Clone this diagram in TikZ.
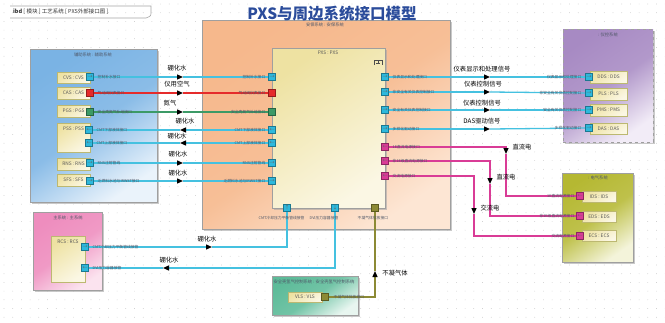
\documentclass[tikz,border=0pt]{standalone}
\usepackage{fontspec}
\setmainfont{Noto Sans CJK SC}
\usetikzlibrary{arrows.meta,shadows,fit}
\definecolor{cyanl}{HTML}{45C1E0}
\definecolor{cyanp}{HTML}{2DB9DD}
\definecolor{redl}{HTML}{E52B2B}
\definecolor{greenl}{HTML}{3C9A66}
\definecolor{magl}{HTML}{D93C96}
\definecolor{olivel}{HTML}{8C8A35}
\definecolor{labgray}{HTML}{505868}
\definecolor{titleblue}{HTML}{2B4C9B}
\definecolor{orgA}{HTML}{F6B88C}
\definecolor{orgB}{HTML}{FDE6D4}
\definecolor{yelA}{HTML}{EEE2A2}
\definecolor{yelB}{HTML}{FBF7E4}
\definecolor{bluA}{HTML}{7AB3E4}
\definecolor{bluB}{HTML}{EAF3FB}
\definecolor{pinA}{HTML}{EE8DBE}
\definecolor{pinB}{HTML}{FBE3EF}
\definecolor{purA}{HTML}{A78AC3}
\definecolor{purB}{HTML}{F2ECF7}
\definecolor{oliA}{HTML}{B5B832}
\definecolor{oliB}{HTML}{F4F4DA}
\definecolor{teaA}{HTML}{5DBB99}
\definecolor{teaB}{HTML}{E8F6F0}
\tikzset{
  sysbox/.style={draw=gray!75, line width=0.7pt, inner sep=0pt,
    drop shadow={shadow xshift=1.5pt,shadow yshift=-1.5pt,fill=gray!70,opacity=0.6}},
  partbox/.style={draw=yellow!40!gray, line width=0.5pt, inner sep=0pt,
    top color=yelA, bottom color=yelB, shading angle=35,
    drop shadow={shadow xshift=1pt,shadow yshift=-1pt,fill=gray!70,opacity=0.5}},
  prt/.style={draw=#1!65!black, fill=#1, minimum size=7pt, inner sep=0pt,
    line width=0.4pt, text=black!60, font=\fontsize{5}{5}\selectfont},
  tl/.style={font=\fontsize{3.8}{4}\selectfont, text=labgray, inner sep=0.5pt},
  fl/.style={font=\fontsize{6.3}{7}\selectfont, inner sep=0pt},
  bl/.style={font=\fontsize{4.3}{5}\selectfont, text=labgray, inner sep=0pt},
  pl/.style={font=\fontsize{4.8}{5}\selectfont, text=black!65, inner sep=0pt},
  wire/.style={line width=1.3pt, draw=#1},
  tip/.style={-{Triangle[length=6pt,width=5pt,color=black]}},
}
\begin{document}
\begin{tikzpicture}[x=1pt,y=-1pt]
\useasboundingbox (0,0) rectangle (665,322);
\fill[white] (0,0) rectangle (665,322);
% dot grid
\foreach \i in {0,...,76}{\foreach \j in {0,...,36}{\fill[gray!55] (4+\i*8.7,4+\j*8.7) circle (0.35);}}
% header tab
\draw[gray!70, line width=0.6pt] (10,6) -- (151,6) -- (151,12) .. controls (151,16) .. (146,18) -- (10,18);
\node[font=\fontsize{5.5}{6}\selectfont, text=black!80, anchor=west, inner sep=0pt] (hdr) at (13,12) {\textbf{ibd} [ 模块 ] 工艺系统 [ PXS外部接口图 ]};

% system boxes
\node[sysbox, top color=orgA, bottom color=orgB, middle color=orgA!85!orgB, shading angle=35, fit={(202,20)(450,229)}] (safe) {};
\node[sysbox, top color=bluA, bottom color=bluB, middle color=bluA!85!bluB, shading angle=35, fit={(30,49)(157,202)}] (aux) {};
\node[sysbox, top color=pinA, bottom color=pinB, middle color=pinA!85!pinB, shading angle=35, fit={(33,212)(102,290)}] (main) {};
\node[sysbox, dashed, top color=purA, bottom color=purB, middle color=purA!85!purB, shading angle=35, fit={(563,29)(653,142)}] (ic) {};
\node[sysbox, top color=oliA, bottom color=oliB, middle color=oliA!85!oliB, shading angle=35, fit={(562,173)(633,262)}] (el) {};
\node[sysbox, top color=teaA, bottom color=teaB, middle color=teaA!85!teaB, shading angle=35, fit={(272,276)(358,315)}] (vlsb) {};

\node[bl] (safel) at (325,25) {安保系统 : 安保系统};
\node[bl] (auxl) at (93,55) {辅助系统 : 辅助系统};
\node[bl] (mainl) at (68,218) {主系统 : 主系统};
\node[bl] (icl) at (608,35) {: 仪控系统};
\node[bl] (ell) at (598,178) {: 电气系统};
\node[bl] (vlsl) at (314,282) {安全壳氢气控制系统 : 安全壳氢气控制系统};

% PXS block
\node[sysbox, top color=yelA, bottom color=yelB, shading angle=35, fit={(272,48)(385,208)}] (pxs) {};
\node[pl] (pxsl) at (328,53) {PXS : PXS};
\draw[black!70, line width=0.5pt] (374,65) -- (374,60) -- (382,60) -- (382,65) (378,60) -- (378,63) (376,63) -- (380,63);

% parts
\node[partbox, fit={(57,72)(90,83)}] (cvs) {}; \node[pl] (cvsl) at (cvs) {CVS : CVS};
\node[partbox, fit={(57,87)(90,99)}] (cas) {}; \node[pl] (casl) at (cas) {CAS : CAS};
\node[partbox, fit={(57,105)(90,117)}] (pgs) {}; \node[pl] (pgsl) at (pgs) {PGS : PGS};
\node[partbox, fit={(57,123)(90,152)}] (pss) {}; \node[pl] (pssl) at (73.5,129) {PSS : PSS};
\node[partbox, fit={(57,158)(90,170)}] (rns) {}; \node[pl] (rnsl) at (rns) {RNS : RNS};
\node[partbox, fit={(57,174)(90,186)}] (sfs) {}; \node[pl] (sfsl) at (sfs) {SFS : SFS};
\node[partbox, fit={(51,236)(85,282)}] (rcs) {}; \node[pl] (rcsl) at (68,242) {RCS : RCS};
\node[partbox, fit={(590,71)(627,83)}] (dds) {}; \node[pl] (ddsl) at (dds) {DDS : DDS};
\node[partbox, fit={(590,88)(627,100)}] (pls) {}; \node[pl] (plsl) at (pls) {PLS : PLS};
\node[partbox, fit={(590,104)(627,116)}] (pms) {}; \node[pl] (pmsl) at (pms) {PMS : PMS};
\node[partbox, fit={(590,123)(627,134)}] (das) {}; \node[pl] (dasl) at (das) {DAS : DAS};
\node[partbox, fit={(582,191)(616,202)}] (ids) {}; \node[pl] (idsl) at (ids) {IDS : IDS};
\node[partbox, fit={(582,211)(616,222)}] (eds) {}; \node[pl] (edsl) at (eds) {EDS : EDS};
\node[partbox, fit={(582,230)(616,241)}] (ecs) {}; \node[pl] (ecsl) at (ecs) {ECS : ECS};
\node[partbox, fit={(288,292)(322,302)}] (vls) {}; \node[pl] (vlsp) at (vls) {VLS : VLS};

% coordinates for arrow marks and bends
\coordinate (m1) at (183,77);  \coordinate (m2) at (183,93);  \coordinate (m3) at (183,112);
\coordinate (m4) at (180,130); \coordinate (m5) at (180,143); \coordinate (m6) at (183,163);
\coordinate (m7) at (183,181);
\coordinate (n1) at (490,77); \coordinate (n2) at (490,92); \coordinate (n3) at (490,110); \coordinate (n4) at (490,129);
\coordinate (e1a) at (506,147); \coordinate (e1m) at (506,154); \coordinate (e1b) at (506,196);
\coordinate (e2a) at (490,161); \coordinate (e2m) at (490,184); \coordinate (e2b) at (490,216);
\coordinate (e3a) at (474,176); \coordinate (e3m) at (474,214); \coordinate (e3b) at (474,236);
\coordinate (r1m) at (212,247); \coordinate (r1a) at (287,247);
\coordinate (r2a) at (335,268); \coordinate (r2m) at (163,268);
\coordinate (v1a) at (375,297); \coordinate (v1m) at (375,271);

% ports (aux)
\node[prt=cyanp] (a1) at (90,77) {→};
\node[prt=redl] (a2) at (90,93) {};
\node[prt=greenl] (a3) at (90,112) {};
\node[prt=cyanp] (a4) at (89,130) {←};
\node[prt=cyanp] (a5) at (89,143) {←};
\node[prt=cyanp] (a6) at (90,163) {→};
\node[prt=cyanp] (a7) at (90,181) {→};
% ports (pxs left)
\node[prt=cyanp] (p1) at (272,77) {→};
\node[prt=redl] (p2) at (272,93) {};
\node[prt=greenl] (p3) at (272,112) {};
\node[prt=cyanp] (p4) at (272,130) {←};
\node[prt=cyanp] (p5) at (272,143) {←};
\node[prt=cyanp] (p6) at (272,163) {→};
\node[prt=cyanp] (p7) at (272,181) {→};
% ports (pxs right)
\node[prt=cyanp] (q1) at (385,77) {→};
\node[prt=cyanp] (q2) at (385,92) {→};
\node[prt=cyanp] (q3) at (385,110) {→};
\node[prt=cyanp] (q4) at (385,129) {→};
\node[prt=magl] (q5) at (385,147) {←};
\node[prt=magl] (q6) at (385,161) {←};
\node[prt=magl] (q7) at (385,176) {←};
% ports (pxs bottom)
\node[prt=cyanp] (b1) at (287,208) {↑};
\node[prt=cyanp] (b2) at (335,208) {↓};
\node[prt=olivel] (b3) at (375,208) {};
% ports (others)
\node[prt=cyanp] (c1) at (589,77) {→};
\node[prt=cyanp] (c2) at (589,93) {→};
\node[prt=cyanp] (c3) at (589,110) {→};
\node[prt=cyanp] (c4) at (589,128) {→};
\node[prt=magl] (d1) at (580,196) {←};
\node[prt=magl] (d2) at (580,216) {←};
\node[prt=magl] (d3) at (580,236) {←};
\node[prt=cyanp] (r1) at (85,247) {→};
\node[prt=cyanp] (r2) at (85,268) {←};
\node[prt=olivel] (v1) at (325,297) {};

% wires
\draw[wire=cyanl, tip] (a1) -- (m1); \draw[wire=cyanl] (m1) -- (p1);
\draw[wire=redl, tip] (a2) -- (m2); \draw[wire=redl] (m2) -- (p2);
\draw[wire=greenl, tip] (a3) -- (m3); \draw[wire=greenl] (m3) -- (p3);
\draw[wire=cyanl, tip] (p4) -- (m4); \draw[wire=cyanl] (m4) -- (a4);
\draw[wire=cyanl, tip] (p5) -- (m5); \draw[wire=cyanl] (m5) -- (a5);
\draw[wire=cyanl, tip] (a6) -- (m6); \draw[wire=cyanl] (m6) -- (p6);
\draw[wire=cyanl, tip] (a7) -- (m7); \draw[wire=cyanl] (m7) -- (p7);
\draw[wire=cyanl, tip] (q1) -- (n1); \draw[wire=cyanl] (n1) -- (c1);
\draw[wire=cyanl, tip] (q2) -- (n2); \draw[wire=cyanl] (n2) -- (c2);
\draw[wire=cyanl, tip] (q3) -- (n3); \draw[wire=cyanl] (n3) -- (c3);
\draw[wire=cyanl, tip] (q4) -- (n4); \draw[wire=cyanl] (n4) -- (c4);
\draw[wire=magl, tip] (q5) -- (e1a) -- (e1m); \draw[wire=magl] (e1m) -- (e1b) -- (d1);
\draw[wire=magl, tip] (q6) -- (e2a) -- (e2m); \draw[wire=magl] (e2m) -- (e2b) -- (d2);
\draw[wire=magl, tip] (q7) -- (e3a) -- (e3m); \draw[wire=magl] (e3m) -- (e3b) -- (d3);
\draw[wire=cyanl, tip] (r1) -- (r1m); \draw[wire=cyanl] (r1m) -- (r1a) -- (b1);
\draw[wire=cyanl, tip] (b2) -- (r2a) -- (r2m); \draw[wire=cyanl] (r2m) -- (r2);
\draw[wire=olivel, tip] (v1) -- (v1a) -- (v1m); \draw[wire=olivel] (v1m) -- (b3);
% redraw ports on top of wires
\foreach \n/\c/\t in {a1/cyanp/→,a2/redl/,a3/greenl/,a4/cyanp/←,a5/cyanp/←,a6/cyanp/→,a7/cyanp/→,
  p1/cyanp/→,p2/redl/,p3/greenl/,p4/cyanp/←,p5/cyanp/←,p6/cyanp/→,p7/cyanp/→,
  q1/cyanp/→,q2/cyanp/→,q3/cyanp/→,q4/cyanp/→,q5/magl/←,q6/magl/←,q7/magl/←,
  b1/cyanp/↑,b2/cyanp/↓,b3/olivel/,c1/cyanp/→,c2/cyanp/→,c3/cyanp/→,c4/cyanp/→,
  d1/magl/←,d2/magl/←,d3/magl/←,r1/cyanp/→,r2/cyanp/←,v1/olivel/}
  {\node[prt=\c] (\n x) at (\n) {\t};}

% port labels
\node[tl, anchor=west] (la1) at (97,77) {控制补水接口};
\node[tl, anchor=west] (la2) at (97,93) {气动阀仪表接口};
\node[tl, anchor=west] (la3) at (97,112) {安全壳氮气补给接口};
\node[tl, anchor=west] (la4) at (96,130) {CMT下部液体接口};
\node[tl, anchor=west] (la5) at (96,143) {CMT上部液体接口};
\node[tl, anchor=west] (la6) at (97,163) {RNS注射管线};
\node[tl, anchor=west] (la7) at (97,181) {乏燃料水池与IRWST接口};
\node[tl, anchor=east] (lp1) at (266,77) {控制补水接口};
\node[tl, anchor=east] (lp2) at (266,93) {气动阀仪表接口};
\node[tl, anchor=east] (lp3) at (266,112) {安全壳氮气补给接口};
\node[tl, anchor=east] (lp4) at (266,130) {CMT下部液体接口};
\node[tl, anchor=east] (lp5) at (266,143) {CMT上部液体接口};
\node[tl, anchor=east] (lp6) at (266,163) {RNS注射管线};
\node[tl, anchor=east] (lp7) at (266,181) {乏燃料水池与IRWST接口};
\node[tl, anchor=west] (lq1) at (392,77) {仪表显示和处理接口};
\node[tl, anchor=west] (lq2) at (392,92) {非安全有关仪表控制接口};
\node[tl, anchor=west] (lq3) at (392,110) {安全有关仪表控制接口};
\node[tl, anchor=west] (lq4) at (392,129) {多样化驱动接口};
\node[tl, anchor=west] (lq5) at (392,147) {1E直流电源接口};
\node[tl, anchor=west] (lq6) at (392,161) {非1E级直流电源接口};
\node[tl, anchor=west] (lq7) at (392,176) {交流电源接口};
\node[tl, anchor=east] (lc1) at (582,77) {仪表显示和处理接口};
\node[tl, anchor=east] (lc2) at (582,93) {非安全有关仪表控制接口};
\node[tl, anchor=east] (lc3) at (582,110) {安全有关仪表控制接口};
\node[tl, anchor=east] (lc4) at (582,128) {多样化驱动接口};
\node[tl, anchor=east] (ld1) at (575,196) {1E直流电源接口};
\node[tl, anchor=east] (ld2) at (575,216) {非1E级直流电源接口};
\node[tl, anchor=east] (ld3) at (575,236) {交流电源接口};
\node[tl, anchor=west] (lr1) at (92,247) {CMT冷却压力平衡管线接管};
\node[tl, anchor=west] (lr2) at (92,268) {DVI压力容器接管};
\node[tl, anchor=west] (lv1) at (333,297) {不凝气体排放接口};
\node[tl, anchor=west] (lb1) at (258,218) {CMT冷却压力平衡管线接管};
\node[tl, anchor=west] (lb2) at (309,218) {DVI压力容器接管};
\node[tl, anchor=west] (lb3) at (357,218) {不凝气体排放接口};

% flow labels
\node[fl] (f1) at (177,68) {硼化水};
\node[fl] (f2) at (177,84) {仪用空气};
\node[fl] (f3) at (170,103) {氮气};
\node[fl] (f4) at (185,121) {硼化水};
\node[fl] (f5) at (177,136) {硼化水};
\node[fl] (f6) at (178,154) {硼化水};
\node[fl] (f7) at (178,173) {硼化水};
\node[fl] (g1) at (482,69) {仪表显示和处理信号};
\node[fl] (g2) at (483,84) {仪表控制信号};
\node[fl] (g3) at (482,103) {仪表控制信号};
\node[fl] (g4) at (482,121) {DAS驱动信号};
\node[fl] (h1) at (522,147) {直流电};
\node[fl] (h2) at (506,177) {直流电};
\node[fl] (h3) at (490,208) {交流电};
\node[fl] (k1) at (207,239) {硼化水};
\node[fl] (k2) at (169,260) {硼化水};
\node[fl] (k3) at (395,273) {不凝气体};

% title
\node[font=\bfseries\fontsize{15.5}{16}\selectfont, text=titleblue, inner sep=0pt] (title) at (332,14) {PXS与周边系统接口模型};
\end{tikzpicture}
\end{document}
